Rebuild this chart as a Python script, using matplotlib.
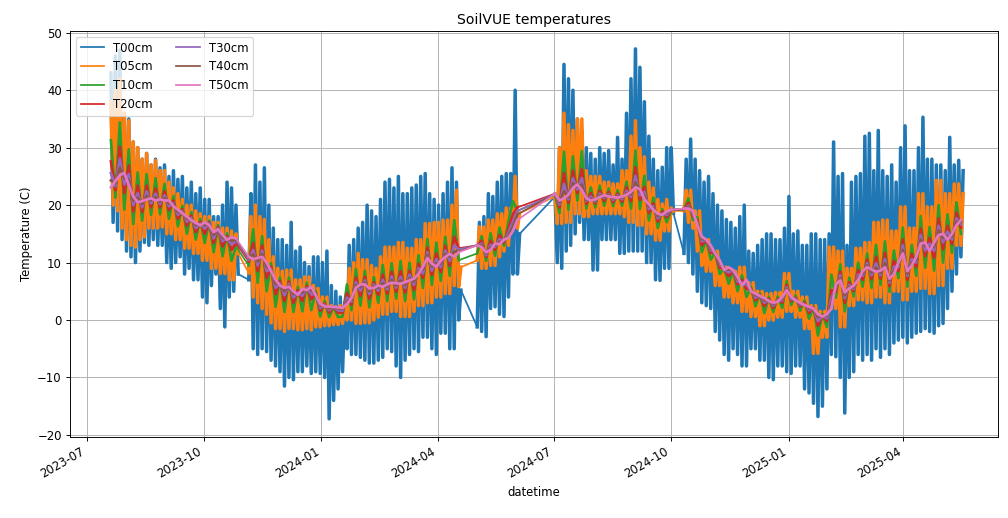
import pandas as pd
import matplotlib.pyplot as plt
import matplotlib.dates as mdates
from matplotlib.lines import Line2D

# Logging stretches: start date and number of samples (alternating daily lows / highs)
seg_starts = ["2023-07-20", "2023-11-05", "2024-05-02", "2024-07-02", "2024-10-11"]
seg_counts_fine = [58, 96, 20, 54, 126]    # T00, T05 every 42 h
seg_counts = [29, 48, 10, 27, 63]          # deeper sensors every 84 h

t00 = [43, 17, 46, 15.5, 47, 14, 36, 12, 35, 11, 31, 10, 30, 12, 28, 13.5, 29, 13, 27, 14, 28, 13, 26.5, 13, 27, 10,
       25, 9, 26, 10, 24.5, 11, 25, 8, 23, 9, 24, 7, 22, 7, 23, 4, 21, 3, 21, 6, 18, 8, 18, 2, 20, -1.2, 24, 4, 23, 5, 20, 8,
       7, 22, -5, 27, -6, 24, -5, 26.5, -5.5, 20, -7, 16, -8, 14, -9, 14, -11.5, 13, -10, 17, -10.4, 12, -9, 12.7, -9, 10,
       -8, 9.3, -9.3, 11, -9, 11, -9.3, 10, -10, 12, -17.2, 6, -14, 5, -12, 4, -9, 3, -5, 13, -6, 14, -6, 16, -6.5, 17,
       -7, 20, -7.5, 19, -7.5, 18, -7, 21, -6.5, 24, -5, 24.5, -5.5, 23, -8, 25, -10, 22, -7, 22, -6, 23, -5, 23.5, -5.5, 25,
       -3, 25.5, -3, 22, -5, 21, -6, 20, -2.3, 22, -2.3, 24, -5, 26.5, -5, 24, 0, 5.2,
       -1.2, 17, -2, 18, -2.9, 22, 2, 21.5, 2.3, 24, 1, 25, 0.6, 25.5, 4, 25.5, 8, 40, 8, 15,
       21.5, 10, 30, 9, 44.5, 12, 42, 13, 40, 15, 35, 17, 33, 14, 30, 14, 29, 8.7, 28, 8.7, 30, 14, 29, 14, 29.5, 14,
       27, 14, 31.8, 11.6, 28, 11.6, 36, 12, 42, 12, 47.2, 12, 44, 12, 38, 10, 32, 10, 28, 7, 26, 6.9, 26.6, 9, 30, 9, 30, 18.6,
       11.6, 28, 10, 31.5, 8, 28, 5, 26, 3, 24, 2.5, 25, 2, 22, -2, 20, -3.5, 19, -6, 17.5, -7, 17, -5, 16, -6, 18, -8, 20,
       -8, 12, -5, 11.6, -5, 13, -7, 14, -7, 15, -10, 15, -10.4, 14, -8, 14, -8, 16, -9, 21.5, -9.3, 15, -8, 15.5, -8, 13,
       -12, 13, -12.7, 15, -14.5, 15, -16.8, 14, -15, 14, -12, 15, -6, 31, -6.4, 25, -10, 25.5, -16.2, 13, -10, 24, -9, 25,
       -6, 25.5, -7, 32, -6, 32.5, -7, 26, -5, 33, -6.5, 26, -5, 25, -6, 27, -4, 24, -3.5, 30, -3, 33.8, -4, 26, -3, 26,
       -2.3, 30, -2, 35.3, -1.5, 28, -2, 28, -2.3, 27, -1, 27, -0.6, 26, 2, 31.8, 5, 27, 8, 27.8, 11, 26]

t05 = [38, 20, 40, 19, 42, 16, 36, 14, 34.7, 13, 31, 12.7, 30, 14, 28, 14.5, 29, 16, 27, 16, 27.8, 16, 26, 16.2, 26, 15,
       24, 15, 23, 14, 22, 14, 21, 12.5, 20, 12.5, 20, 11.6, 19, 11.6, 18.5, 10.4, 18, 10.4, 18, 9, 17, 9, 17, 8.1, 16, 8.1,
       16, 7, 15.5, 7, 15, 11.6,
       8.2, 18, 4, 20, 3, 18, 2, 17.5, 1, 14, -0.5, 11, -1.5, 9, -1.5, 8.5, -2, 8.7, -1.5, 8.7, -1.5, 7, -1.7, 7, -1.7, 7.5,
       -1.5, 7.5, -1.7, 6, -1.2, 5.5, -1.2, 4, -1, 4, -1, 2.5, -0.8, 2.3, -0.8, 2.5, -0.6, 2.5, 0, 9, 0, 10, -0.6, 11.6,
       -0.6, 10.5, -0.5, 10.5, -0.5, 9.5, 0, 9, 0.5, 11, 1, 12.7, 1, 12.7, 1.5, 12.7, 1.5, 13.5, 0.6, 13.5, 0.6, 12.5,
       0.6, 12.5, 1.5, 14, 2.5, 14, 2.5, 16.8, 3, 16.8, 3, 17, 4, 17, 4, 17.4, 4.6, 17.4, 4.6, 20, 6, 22.6, 5.8, 9.2,
       10.4, 16.2, 9, 16.2, 9, 17.4, 9.5, 17.4, 9.5, 18.5, 11, 18.5, 12, 19.5, 13, 19.5, 16, 25, 16, 18.6,
       21.5, 16.8, 30, 16.8, 36, 17, 34, 17, 33, 18.5, 35, 18.5, 35, 18, 26, 18, 25, 18.5, 25, 18.5, 25, 18.5, 24, 18.5,
       24, 18.5, 23.7, 18.5, 23.7, 18.5, 26, 18, 26, 17, 32, 17, 34.7, 16.5, 30, 16.5, 28.4, 15, 24, 15, 23, 13.9, 21, 13.9,
       20.2, 15.5, 21, 15.5, 19.5, 19,
       19, 22.6, 17, 22.6, 16, 19, 12, 19, 9.5, 14, 8.5, 14, 8.5, 12, 6, 12, 6, 9.2, 4, 9.2, 4, 8.5, 3, 8.5, 3, 9.2, 1.5, 9.2,
       1.5, 6.5, 0.6, 6.5, 0.6, 5, -1, 5, -1, 4.6, 0, 4.6, 0, 4.8, 0.5, 4.8, 0.5, 8.1, 1.5, 8.1, 1.5, 5, 0.5, 5, 0.5, 4,
       -1.5, 4, -1.5, 2.5, -5.8, 2.5, -5.8, 1.5, -3, 1.5, -3, 12.7, 2, 12.7, 2, 12, -1.2, 12, -1.2, 9, 2.5, 9, 2.5, 12.5,
       3.5, 12.5, 3.5, 13.5, 3, 13.5, 3, 17, 4, 17, 4, 17.4, 3, 17.4, 3, 15.5, 5, 15.5, 5, 19.7, 3.5, 19.7, 3.5, 16, 5, 16,
       5, 22, 5.5, 22, 5.5, 19.7, 4.6, 19.7, 4.6, 24.3, 6, 24.3, 6, 22, 9, 22, 9, 23.7, 13, 23.7, 13, 22]

t10 = [31.3, 21.3, 34.4, 19.2, 29.7, 16.7, 25.7, 17.3, 25.4, 18.3, 24.7, 18.4, 23.7, 17.6, 21.6, 16.3, 19.9, 15, 18.8, 14, 17.6, 13.4, 17.3, 11.8, 16.5, 11.1, 15.1, 10.3, 12.8,
       9.5, 15.8, 6.5, 14.6, 5, 9.9, 2.3, 7.4, 1.4, 7.4, 1.4, 5.8, 1.5, 6.5, 1.7, 5, 0.6, 3.3, 0.5, 2.3, 0.5, 0.6, 6.2, 1.7,
       8.9, 2.5, 8.6, 2.2, 7.5, 3, 9.6, 3.3, 9.9, 3.7, 10.3, 3.3, 10, 3.6, 11.3, 5.6, 14.1, 6.1, 13.5, 6.8, 14.5, 7.7, 17.4, 10.4,
       11.6, 14.6, 10.3, 15.1, 11.2, 16.1, 12.9, 17.2, 20.7, 19,
       21.8, 18.6, 29.3, 19.2, 28.5, 20.8, 29.4, 19.4, 23.1, 19.6, 23.4, 19.9, 22.9, 19.8, 22.6, 19.9, 24.1, 19.4, 29.5, 19.3, 25.1, 17.3, 21.3, 16, 19.3, 17, 19.1,
       19.2, 21.2, 17.4, 17.9, 11.8, 14, 10.5, 11.8, 8, 9, 6.3, 8.6, 5, 7.8, 4, 5.8, 2.4, 4.6, 1.2, 4, 1.4, 4.1, 2.1, 6.8, 2.6, 4.3, 1.6, 3.4, 0.2, 2.3,
       -2.7, 1.1, -1.2, 7.9, 3.9, 9.7, 1.5, 7.4, 4.1, 10, 5.8, 11.6, 5.6, 13.1, 6.1, 13.7, 4.9, 12.1, 7.3, 16.1, 5.8, 13.1, 7.7, 18.1, 9.1,
       16.2, 8.6, 20, 10, 18.4, 11.7, 20.5, 15]

t20 = [27.6, 22.6, 30.2, 22.1, 26.9, 18.9, 23.4, 18.8, 23.4, 19.6, 22.9, 19.6, 22.4, 19.1, 20.8, 17.6, 19.3, 16.4, 18.2, 15.3, 17.1, 15, 17, 13.4, 16.2, 12.8, 14.6, 12.2, 13.4,
       10.2, 13.4, 8.5, 13, 7.3, 9.3, 4.5, 6.8, 3.3, 6.7, 3, 5.2, 3.3, 5.9, 3.6, 4.7, 1.6, 2.9, 1.3, 2.3, 1.3, 1.3, 4.7, 2.7,
       7.4, 4.2, 7.5, 3.7, 6.6, 4.4, 7.9, 4.6, 8.4, 4.9, 8.5, 4.8, 8.6, 5.2, 9.8, 7.3, 12.6, 7.8, 11.6, 8.4, 12.9, 9.4, 14.5, 12.5,
       13, 13.8, 11, 13.8, 12.2, 14.8, 13.4, 15.9, 18.4, 19.6,
       22, 19.6, 25.6, 20.4, 26, 22.1, 26.3, 20.2, 22.1, 20.3, 22.5, 20.7, 22.3, 20.5, 22, 20.6, 23.1, 20.7, 26.6, 20.9, 23.2, 18.6, 20.3, 17.1, 18.9, 17.9, 19.1,
       19.3, 20.4, 18.1, 17.3, 13, 14, 11.7, 11.7, 9.1, 8.9, 7.6, 8.6, 6.2, 7, 5.4, 5.5, 3.4, 4.4, 2.4, 3.7, 2.1, 3.7, 3, 6.1, 3.3, 3.9, 2.3, 3, 1.2, 2.2,
       -1, 0.9, -0.2, 5.2, 4.9, 8.4, 3, 6.6, 5, 8.7, 7, 10.5, 7.1, 11, 7.2, 11.7, 5.9, 10.3, 8.5, 14, 7, 11.5, 9.2, 15.9, 11.1,
       14.3, 10.8, 17.7, 12.3, 16.4, 13.2, 18.7, 16.1]

t30 = [25.6, 23.3, 28.1, 23.6, 25.4, 20, 22.1, 19.6, 22.4, 20.3, 22, 20.2, 21.7, 19.8, 20.3, 18.3, 19, 17.1, 17.8, 16, 16.8, 15.9, 16.8, 14.2, 16, 13.7, 14.3, 13.1, 13.8,
       10.5, 12.2, 9.5, 12.1, 8.5, 8.9, 5.6, 6.4, 4.3, 6.3, 3.9, 4.8, 4.2, 5.6, 4.5, 4.5, 2.1, 2.7, 1.7, 2.3, 1.7, 1.6, 3.9, 3.2,
       6.6, 5.1, 6.9, 4.5, 6.2, 5.1, 7, 5.3, 7.6, 5.6, 7.5, 5.6, 7.9, 6.1, 9, 8.1, 11.8, 8.6, 10.6, 9.2, 12.1, 10.3, 13, 12.3,
       13, 13.3, 11.3, 13.1, 12.7, 14.1, 13.7, 15.2, 17.1, 19,
       22, 20.1, 23.7, 21, 24.7, 22.7, 24.7, 20.7, 21.5, 20.6, 22, 21.2, 21.9, 20.9, 21.7, 21, 22.5, 21.4, 25.1, 21.7, 22.3, 19.3, 19.8, 17.7, 18.6, 18.3, 19.2,
       19.3, 19.9, 18.5, 16.9, 13.7, 14, 12.2, 11.7, 9.7, 8.8, 8.3, 8.7, 6.7, 6.5, 6.1, 5.3, 3.9, 4.3, 3, 3.5, 2.5, 3.5, 3.4, 5.7, 3.6, 3.7, 2.6, 2.8, 1.7, 2.1,
       -0.2, 0.8, 0.3, 3.8, 5.5, 7.8, 3.8, 6.1, 5.4, 7.9, 7.7, 9.9, 7.8, 9.9, 7.8, 10.6, 6.5, 9.3, 9.2, 13, 7.7, 10.6, 10, 14.8, 12.1,
       13.3, 12, 16.4, 13.5, 15.4, 14, 17.7, 16.7]

t40 = [24.3, 23.8, 26.5, 24.7, 24.4, 20.8, 21.3, 20.2, 21.6, 20.8, 21.4, 20.6, 21.2, 20.3, 20.1, 18.8, 18.8, 17.6, 17.6, 16.5, 16.7, 16.5, 16.6, 14.8, 15.9, 14.3, 14.2, 13.8, 14,
       10.8, 11.4, 10.2, 11.5, 9.3, 8.7, 6.3, 6.2, 5, 6, 4.5, 4.6, 4.8, 5.4, 5.2, 4.4, 2.5, 2.5, 2, 2.3, 2, 1.9, 3.3, 3.5,
       6.1, 5.7, 6.5, 5, 5.9, 5.6, 6.4, 5.8, 7, 6, 6.9, 6.1, 7.3, 6.7, 8.5, 8.8, 11.3, 9.3, 9.9, 9.8, 11.5, 11, 11.9, 12,
       13, 13, 11.6, 12.6, 13, 13.6, 13.8, 14.7, 16.3, 18.4,
       22, 20.5, 22.4, 21.4, 23.8, 23.2, 23.6, 20.9, 21.1, 20.8, 21.7, 21.4, 21.7, 21.2, 21.5, 21.3, 22.1, 21.9, 24, 22.3, 21.6, 19.8, 19.5, 18.1, 18.5, 18.6, 19.2,
       19.4, 19.7, 18.8, 16.7, 14.1, 14, 12.6, 11.6, 10, 8.7, 8.8, 8.7, 7.1, 6.3, 6.6, 5.1, 4.3, 4.3, 3.4, 3.4, 2.8, 3.3, 3.7, 5.4, 3.8, 3.5, 2.8, 2.7, 2, 2,
       0.5, 0.7, 0.7, 2.9, 5.9, 7.3, 4.3, 5.8, 5.7, 7.4, 8.1, 9.5, 8.3, 9.1, 8.2, 9.9, 6.9, 8.6, 9.6, 12.2, 8.1, 10, 10.5, 14, 12.9,
       12.6, 12.8, 15.6, 14.3, 14.6, 14.5, 17.1, 17.1]

t50 = [23.1, 24.2, 25.2, 25.6, 23.5, 21.5, 20.5, 20.7, 21, 21.2, 20.8, 21, 20.8, 20.8, 19.8, 19.2, 18.6, 18, 17.4, 16.9, 16.5, 17, 16.5, 15.3, 15.8, 14.8, 14, 14.4, 14.2,
       11, 10.6, 10.8, 11, 10, 8.5, 7, 6, 5.6, 5.8, 5, 4.4, 5.4, 5.2, 5.8, 4.3, 2.8, 2.4, 2.3, 2.3, 2.2, 2.1, 2.8, 3.8,
       5.6, 6.2, 6.2, 5.5, 5.6, 6, 5.8, 6.2, 6.5, 6.4, 6.3, 6.6, 6.9, 7.2, 8, 9.3, 10.8, 9.8, 9.3, 10.3, 11, 11.5, 11, 11.8,
       13, 12.7, 11.8, 12.2, 13.3, 13.2, 14, 14.3, 15.5, 17.4,
       22, 20.8, 21.2, 21.8, 23, 23.6, 22.6, 21.2, 20.8, 21, 21.4, 21.7, 21.5, 21.4, 21.3, 21.5, 21.8, 22.3, 23.1, 22.8, 21, 20.2, 19.2, 18.5, 18.3, 18.9, 19.2,
       19.4, 19.4, 19, 16.5, 14.5, 14, 13, 11.6, 10.4, 8.7, 9.2, 8.7, 7.5, 6, 7, 5, 4.6, 4.2, 3.8, 3.3, 3, 3.2, 4, 5.2, 4, 3.4, 3, 2.6, 2.3, 2,
       1, 0.6, 1, 2, 6.2, 6.9, 4.8, 5.5, 6, 7, 8.5, 9.2, 8.8, 8.4, 8.6, 9.2, 7.2, 8, 10, 11.6, 8.5, 9.5, 11, 13.3, 13.5,
       12, 13.5, 14.8, 15, 14, 15, 16.5, 17.4]

labels = ["T00cm", "T05cm", "T10cm", "T20cm", "T30cm", "T40cm", "T50cm"]
series = [t00, t05, t10, t20, t30, t40, t50]


def time_grid(counts, freq):
    idx = pd.DatetimeIndex([])
    for start, n in zip(seg_starts, counts):
        idx = idx.append(pd.date_range(start, periods=n, freq=freq))
    return idx


times_fine = time_grid(seg_counts_fine, "42h")
times = time_grid(seg_counts, "84h")

fig, ax = plt.subplots(figsize=(12, 518 / 84), dpi=84)
fig.subplots_adjust(left=0.0695, right=0.990, top=0.940, bottom=0.156)

handles = []
for name, vals in zip(labels, series):
    fine = len(vals) == len(times_fine)
    x = times_fine if fine else times
    counts = seg_counts_fine if fine else seg_counts
    # thin line carries the straight joins across the logging gaps
    line, = ax.plot(x, vals, lw=1.5)
    color = line.get_color()
    # thicker strokes inside each stretch stand in for the dense 15-min record
    i = 0
    for n in counts:
        ax.plot(x[i:i + n], vals[i:i + n], color=color, lw=3.0 if fine else 2.3)
        i += n
    handles.append(Line2D([], [], color=color, lw=1.5, label=name))

ax.set_xlim(pd.Timestamp("2023-06-18"), pd.Timestamp("2025-06-14"))
ax.set_ylim(-20.4, 50.3)
ax.xaxis.set_major_locator(mdates.MonthLocator(bymonth=[1, 4, 7, 10]))
ax.xaxis.set_major_formatter(mdates.DateFormatter("%Y-%m"))
plt.setp(ax.get_xticklabels(), rotation=30, ha="right")

ax.set_title("SoilVUE temperatures")
ax.set_xlabel("datetime")
ax.set_ylabel("Temperature (C)")
ax.grid(True)
ax.legend(handles=handles, loc="upper left", ncol=2)

fig.savefig("out.png", dpi=84)
plt.close("all")
